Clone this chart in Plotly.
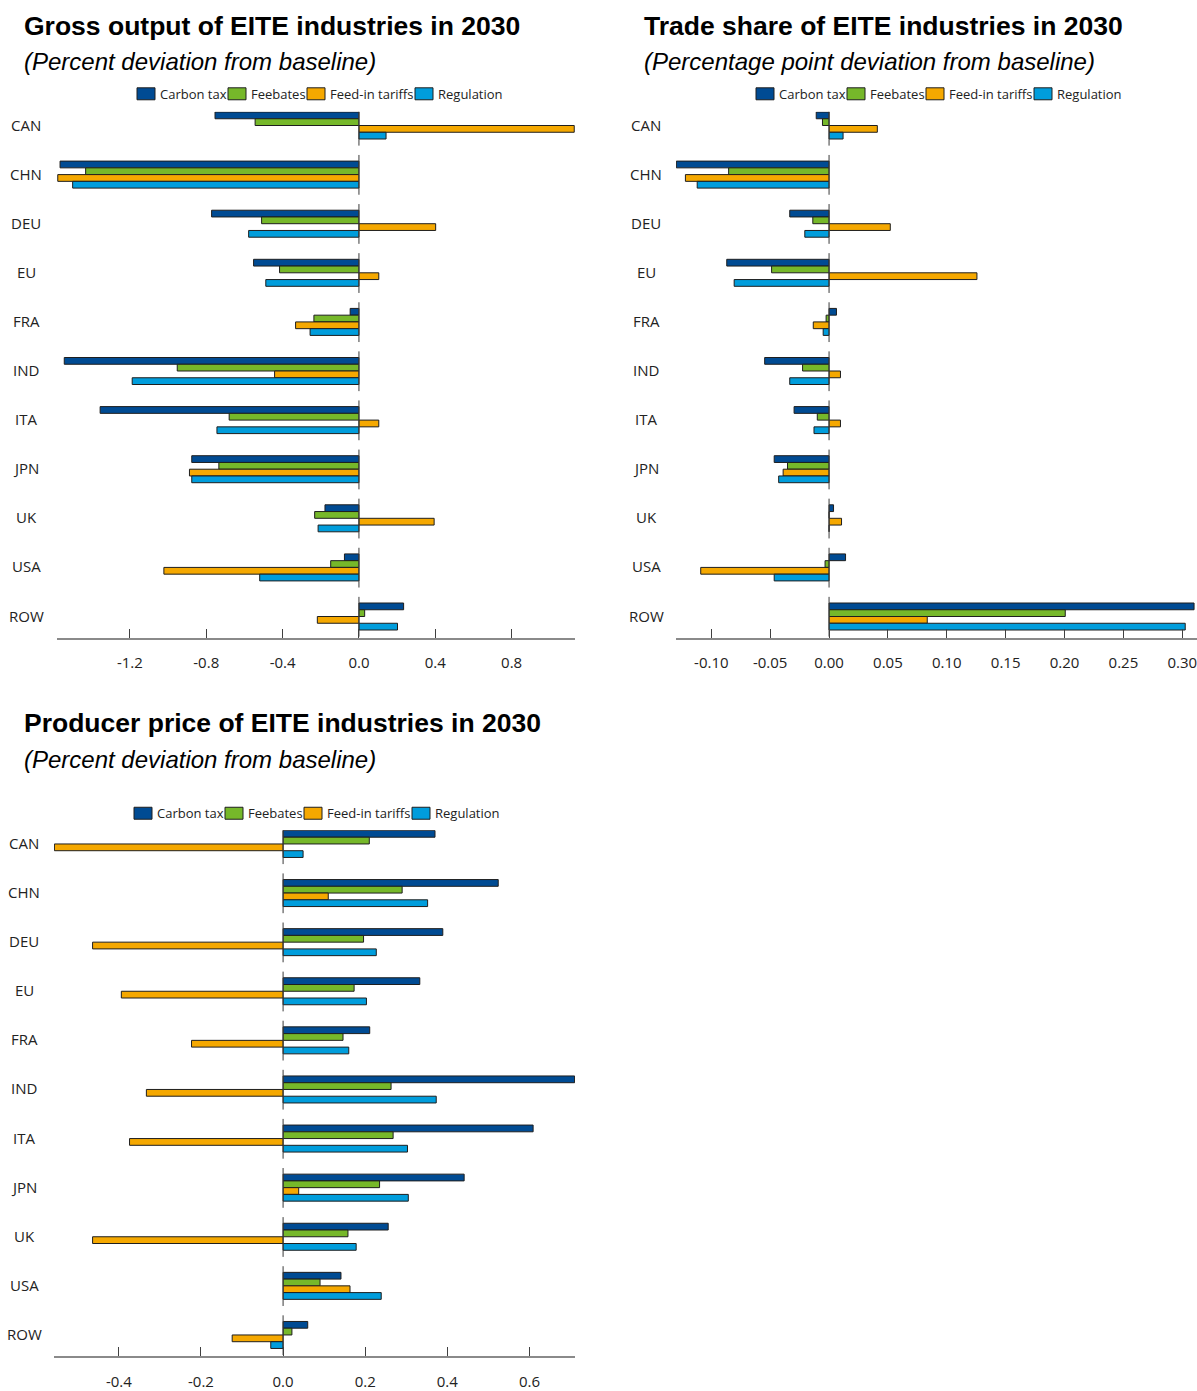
import plotly.graph_objects as go

# ---- data -------------------------------------------------------------
regions = ["CAN", "CHN", "DEU", "EU", "FRA", "IND", "ITA", "JPN", "UK", "USA", "ROW"]
policies = ["Carbon tax", "Feebates", "Feed-in tariffs", "Regulation"]

# Gross output, percent deviation from baseline
gross_carbon_tax = [-0.754, -1.566, -0.772, -0.552, -0.046, -1.544, -1.356, -0.876, -0.178, -0.076, 0.234]
gross_feebates = [-0.544, -1.432, -0.510, -0.416, -0.236, -0.952, -0.680, -0.734, -0.232, -0.148, 0.030]
gross_feed_in = [1.128, -1.578, 0.402, 0.104, -0.332, -0.442, 0.104, -0.888, 0.394, -1.022, -0.218]
gross_regulation = [0.142, -1.500, -0.578, -0.488, -0.256, -1.188, -0.744, -0.876, -0.214, -0.520, 0.202]

# Trade share, percentage point deviation from baseline
trade_carbon_tax = [-0.0109, -0.1297, -0.0334, -0.0869, 0.0063, -0.0547, -0.0297, -0.0466, 0.0038, 0.0140, 0.3100]
trade_feebates = [-0.0056, -0.0853, -0.0138, -0.0488, -0.0025, -0.0225, -0.0100, -0.0353, 0.0, -0.0034, 0.2006]
trade_feed_in = [0.0410, -0.1220, 0.0520, 0.1256, -0.0134, 0.0097, 0.0097, -0.0390, 0.0106, -0.1090, 0.0834]
trade_regulation = [0.0119, -0.1120, -0.0206, -0.0806, -0.0050, -0.0334, -0.0128, -0.0428, 0.0, -0.0466, 0.3025]

# Producer price, percent deviation from baseline
price_carbon_tax = [0.370, 0.524, 0.389, 0.333, 0.211, 0.710, 0.609, 0.441, 0.256, 0.141, 0.060]
price_feebates = [0.210, 0.290, 0.196, 0.173, 0.146, 0.263, 0.268, 0.235, 0.158, 0.090, 0.0215]
price_feed_in = [-0.557, 0.110, -0.464, -0.394, -0.223, -0.333, -0.374, 0.038, -0.464, 0.163, -0.124]
price_regulation = [0.0487, 0.352, 0.227, 0.203, 0.160, 0.373, 0.303, 0.305, 0.178, 0.239, -0.030]

# axis ticks
gross_ticks = [-1.2, -0.8, -0.4, 0.0, 0.4, 0.8]
gross_ticktext = ["-1.2", "-0.8", "-0.4", "0.0", "0.4", "0.8"]
trade_ticks = [-0.10, -0.05, 0.0, 0.05, 0.10, 0.15, 0.20, 0.25, 0.30]
trade_ticktext = ["-0.10", "-0.05", "0.00", "0.05", "0.10", "0.15", "0.20", "0.25", "0.30"]
price_ticks = [-0.4, -0.2, 0.0, 0.2, 0.4, 0.6]
price_ticktext = ["-0.4", "-0.2", "0.0", "0.2", "0.4", "0.6"]

# ---- styling ----------------------------------------------------------
W, H = 1197, 1391
colors = ["#004b93", "#76b82a", "#f5a800", "#009ddc"]
outline = "#1e1e1e"
label_font = "Open Sans, Noto Sans, sans-serif"
title_font = "Liberation Sans, Arial, sans-serif"


def px_x(v):
    return v / W


def px_y(v):
    return 1 - v / H


panels = [
    dict(
        title="Gross output of EITE industries in 2030",
        subtitle="(Percent deviation from baseline)",
        series=[gross_carbon_tax, gross_feebates, gross_feed_in, gross_regulation],
        xrange=[-1.582, 1.132], ticks=gross_ticks, ticktext=gross_ticktext,
        plot_x=(57, 575), plot_y=(112, 639), title_x=22, title_y=26, sub_y=62,
        label_x=26, legend_y=94,
    ),
    dict(
        title="Trade share of EITE industries in 2030",
        subtitle="(Percentage point deviation from baseline)",
        series=[trade_carbon_tax, trade_feebates, trade_feed_in, trade_regulation],
        xrange=[-0.1300, 0.3125], ticks=trade_ticks, ticktext=trade_ticktext,
        plot_x=(676, 1197), plot_y=(112, 639), title_x=642, title_y=26, sub_y=62,
        label_x=646, legend_y=94,
    ),
    dict(
        title="Producer price of EITE industries in 2030",
        subtitle="(Percent deviation from baseline)",
        series=[price_carbon_tax, price_feebates, price_feed_in, price_regulation],
        xrange=[-0.558, 0.711], ticks=price_ticks, ticktext=price_ticktext,
        plot_x=(54, 575), plot_y=(832, 1359), title_x=22, title_y=725, sub_y=761,
        label_x=24, legend_y=815,
    ),
]

positions = list(range(len(regions)))
# legend swatch offsets from each panel's left edge
legend_offsets = [80, 171, 250, 358]

fig = go.Figure()
annotations = []
shapes = []
layout_axes = {}

for k, p in enumerate(panels):
    sfx = "" if k == 0 else str(k + 1)
    xa, ya = "x" + sfx, "y" + sfx
    for name, vals, col in zip(policies, p["series"], colors):
        fig.add_trace(go.Bar(
            x=vals, y=positions, orientation="h", name=name,
            marker=dict(color=col, line=dict(color=outline, width=1)),
            xaxis=xa, yaxis=ya, showlegend=False,
        ))
    # zero line, broken between region groups
    zx, zy = [], []
    for i in positions:
        zx += [0, 0, None]
        zy += [i - 0.40, i + 0.41, None]
    fig.add_trace(go.Scatter(
        x=zx, y=zy, mode="lines", line=dict(color="#3a3a3a", width=1),
        xaxis=xa, yaxis=ya, showlegend=False, hoverinfo="skip",
    ))

    x0, x1 = p["plot_x"]
    y0, y1 = p["plot_y"]
    layout_axes["xaxis" + sfx] = dict(
        domain=[px_x(x0), px_x(x1)], anchor=ya, range=p["xrange"],
        tickvals=p["ticks"], ticktext=p["ticktext"], ticks="inside", ticklen=9,
        tickcolor="#404040", tickwidth=1, showline=True, linecolor="#8a8a8a",
        linewidth=1.5, showgrid=False, zeroline=False, ticklabelstandoff=11,
        ticklabeloverflow="allow",
        tickfont=dict(family=label_font, size=15, color="#222222"),
    )
    layout_axes["yaxis" + sfx] = dict(
        domain=[px_y(y1), px_y(y0)], anchor=xa,
        range=[len(regions) - 1 + 0.43, -0.28],
        showticklabels=False, showgrid=False, zeroline=False, showline=False,
        ticks="",
    )

    # region labels centred in the left gutter
    for i, r in zip(positions, regions):
        annotations.append(dict(
            x=px_x(p["label_x"]), xref="paper", y=i - 0.02, yref=ya, text=r,
            showarrow=False, xanchor="center", yanchor="middle",
            font=dict(family=label_font, size=15, color="#222222"),
        ))

    # titles
    annotations.append(dict(
        x=px_x(p["title_x"]), y=px_y(p["title_y"]), xref="paper", yref="paper",
        text="<b>" + p["title"] + "</b>", showarrow=False, xanchor="left", yanchor="middle",
        font=dict(family=title_font, size=26.5, color="#000000"),
    ))
    annotations.append(dict(
        x=px_x(p["title_x"]), y=px_y(p["sub_y"]), xref="paper", yref="paper",
        text="<i>" + p["subtitle"] + "</i>", showarrow=False, xanchor="left", yanchor="middle",
        font=dict(family=title_font, size=24, color="#000000"),
    ))

    # legend
    ly = p["legend_y"]
    for off, name, col in zip(legend_offsets, policies, colors):
        bx = x0 + off
        shapes.append(dict(
            type="rect", xref="paper", yref="paper",
            x0=px_x(bx), x1=px_x(bx + 18), y0=px_y(ly + 6), y1=px_y(ly - 6),
            fillcolor=col, line=dict(color=outline, width=1),
        ))
        annotations.append(dict(
            x=px_x(bx + 21), y=px_y(ly), xref="paper", yref="paper", text=name,
            showarrow=False, xanchor="left", yanchor="middle",
            font=dict(family=label_font, size=13, color="#222222"),
        ))

fig.update_layout(
    width=W, height=H, margin=dict(l=0, r=0, t=0, b=0),
    paper_bgcolor="white", plot_bgcolor="white",
    barmode="group", bargap=0.45, bargroupgap=0,
    annotations=annotations, shapes=shapes, showlegend=False,
    **layout_axes,
)

fig.write_html("out.html")
